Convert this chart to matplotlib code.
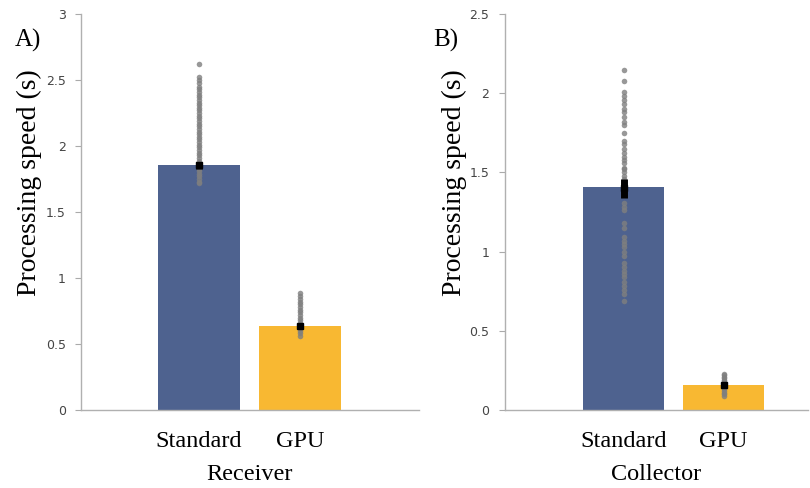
import matplotlib.pyplot as plt
import numpy as np

# bar heights (mean processing speed, s)
groups = ['Standard', 'GPU']
receiver_mean = [1.86, 0.636]
collector_mean = [1.41, 0.155]

# black error markers (low, high)
receiver_err = [(1.83, 1.88), (0.615, 0.650)]
collector_err = [(1.34, 1.46), (0.14, 0.172)]

# individual runs
receiver_std = [2.62, 2.52, 2.50, 2.48, 2.45, 2.43, 2.41, 2.39, 2.37, 2.35,
                2.33, 2.31, 2.29, 2.27, 2.25, 2.23, 2.21, 2.19, 2.17, 2.15,
                2.13, 2.11, 2.09, 2.07, 2.05, 2.03, 2.01, 1.99, 1.97, 1.95,
                1.93, 1.91, 1.89, 1.87, 1.85, 1.83, 1.81, 1.79, 1.77, 1.75,
                1.73, 1.72]
receiver_gpu = [0.89, 0.86, 0.84, 0.82, 0.80, 0.78, 0.76, 0.74, 0.72, 0.70,
                0.68, 0.66, 0.64, 0.62, 0.60, 0.58, 0.56]
collector_std = [2.15, 2.08, 2.01, 1.98, 1.96, 1.93, 1.90, 1.88, 1.85, 1.82,
                 1.80, 1.75, 1.70, 1.68, 1.65, 1.62, 1.60, 1.58, 1.56, 1.53,
                 1.52, 1.50, 1.48, 1.46, 1.44, 1.42, 1.40, 1.38, 1.36,
                 1.31, 1.28, 1.26, 1.18, 1.15, 1.09, 1.07, 1.05, 1.03, 1.00,
                 0.97, 0.93, 0.90, 0.88, 0.86, 0.84, 0.81, 0.78, 0.76, 0.73,
                 0.69]
collector_gpu = [0.23, 0.22, 0.21, 0.20, 0.19, 0.18, 0.17, 0.16, 0.15,
                 0.14, 0.13, 0.12, 0.11, 0.10, 0.09]

bar_colors = ['#4e628f', '#f8b832']
serif = 'Liberation Serif'

fig = plt.figure(figsize=(8.1, 4.88), dpi=100)
ax1 = fig.add_axes([0.100, 0.160, 0.417, 0.811])
ax2 = fig.add_axes([0.623, 0.160, 0.374, 0.811])


def draw_panel(ax, means, errs, pts, xlabel, ymax, yticks, xlim, letter, lab_x, let_x):
    x = np.array([1, 2])
    ax.bar(x, means, width=0.81, color=bar_colors, zorder=1)
    for xi, vals in zip(x, pts):
        ax.plot([xi] * len(vals), vals, 'o', color='#7f7f7f', alpha=0.8,
                markersize=4, markeredgewidth=0, zorder=2)
    for xi, m, (lo, hi) in zip(x, means, errs):
        ax.plot([xi, xi], [lo, hi], color='black', linewidth=5,
                solid_capstyle='butt', zorder=3)
        ax.plot([xi], [(lo + hi) / 2], 's', color='black', markersize=5, zorder=3)

    ax.set_xlim(*xlim)
    ax.set_ylim(0, ymax)
    ax.set_yticks(yticks)
    ax.set_yticklabels([('%g' % t) for t in yticks], fontsize=9,
                       color='#444444', family='DejaVu Sans')
    ax.set_xticks(x)
    ax.set_xticklabels(groups, fontsize=17.5, family=serif)
    ax.tick_params(axis='x', length=0, pad=15)
    ax.tick_params(axis='y', length=4, width=0.8, color='#aaaaaa', pad=7)
    for s in ['top', 'right']:
        ax.spines[s].set_visible(False)
    for s in ['left', 'bottom']:
        ax.spines[s].set_color('#b0b0b0')
        ax.spines[s].set_linewidth(1.0)
    ax.set_xlabel(xlabel, fontsize=17.5, family=serif, labelpad=9)
    ax.set_ylabel('Processing speed (s)', fontsize=20, family=serif)
    ax.yaxis.set_label_coords(lab_x, 0.575)
    ax.text(let_x, 0.934, letter, transform=ax.transAxes, fontsize=18,
            family=serif, ha='center', va='center')


draw_panel(ax1, receiver_mean, receiver_err, [receiver_std, receiver_gpu],
           'Receiver', 3, [0, 0.5, 1, 1.5, 2, 2.5, 3], (-0.17, 3.18), 'A)',
           -0.115, -0.157)
draw_panel(ax2, collector_mean, collector_err, [collector_std, collector_gpu],
           'Collector', 2.5, [0, 0.5, 1, 1.5, 2, 2.5], (-0.19, 2.84), 'B)',
           -0.125, -0.195)

plt.savefig('out.png', dpi=100)
plt.close()
